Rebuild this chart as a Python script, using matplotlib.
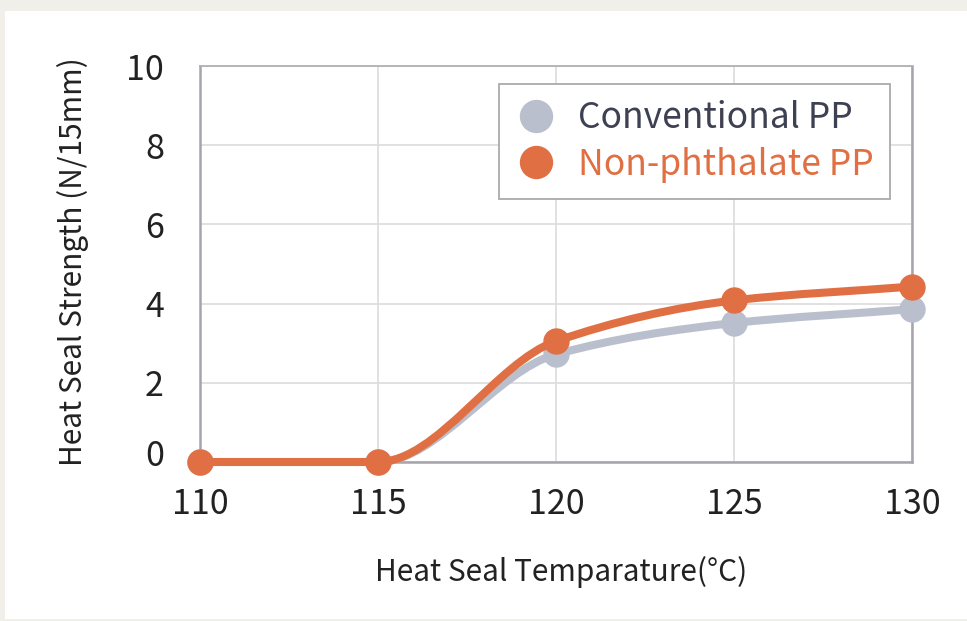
import numpy as np
import matplotlib
matplotlib.use("Agg")
import matplotlib.pyplot as plt
from matplotlib.path import Path
from matplotlib.patches import PathPatch, Rectangle
from matplotlib.lines import Line2D
from matplotlib.transforms import ScaledTranslation

plt.rcParams['font.family'] = ['Noto Sans CJK JP', 'DejaVu Sans']

temps = [110, 115, 120, 125, 130]
conventional = [0, 0, 2.72, 3.51, 3.86]
non_phthalate = [0, 0, 3.05, 4.08, 4.43]
labels = ["Conventional PP", "Non-phthalate PP"]
colors = ["#b9bfcc", "#e07044"]
text_colors = ["#3e4152", "#e07044"]


def smooth_path(x, y):
    # monotone cubic (Fritsch-Carlson) drawn as bezier segments
    x = np.asarray(x, float)
    y = np.asarray(y, float)
    h = np.diff(x)
    d = np.diff(y) / h
    m = np.zeros_like(y)
    m[0], m[-1] = d[0], d[-1]
    for i in range(1, len(y) - 1):
        if d[i - 1] * d[i] <= 0:
            m[i] = 0
        else:
            w1 = 2 * h[i] + h[i - 1]
            w2 = h[i] + 2 * h[i - 1]
            m[i] = (w1 + w2) / (w1 / d[i - 1] + w2 / d[i])
    verts = [(x[0], y[0])]
    codes = [Path.MOVETO]
    for i in range(len(h)):
        verts += [(x[i] + h[i] / 3, y[i] + m[i] * h[i] / 3),
                  (x[i + 1] - h[i] / 3, y[i + 1] - m[i + 1] * h[i] / 3),
                  (x[i + 1], y[i + 1])]
        codes += [Path.CURVE4] * 3
    return Path(verts, codes)


fig = plt.figure(figsize=(9.67, 6.21), dpi=100, facecolor="#f0efea")
fig.patches.append(Rectangle((5 / 967, 2 / 621), 1, 1 - 13 / 621,
                             transform=fig.transFigure, facecolor="white",
                             edgecolor="none", zorder=-5))

ax = fig.add_axes([200 / 967, 1 - 462 / 621, 712 / 967, 396 / 621])
ax.set_facecolor("white")

for ys, c, z in [(conventional, colors[0], 3), (non_phthalate, colors[1], 5)]:
    ax.add_patch(PathPatch(smooth_path(temps, ys), fill=False, edgecolor=c,
                           lw=5.8, capstyle="round", joinstyle="round",
                           clip_on=False, zorder=z))
    ax.plot(temps, ys, "o", color=c, markersize=18, clip_on=False, zorder=z + 1)

ax.set_xlim(110, 130)
ax.set_ylim(0, 10)
ax.set_xticks(temps)
ax.set_yticks(range(0, 11, 2))
ax.grid(True, color="#dedede", lw=1.3)
ax.set_axisbelow(True)
for s in ax.spines.values():
    s.set_color("#a4a4aa")
    s.set_linewidth(1.8)
ax.spines["top"].set_color("#b0b0b5")
ax.spines["top"].set_linewidth(1.3)
ax.tick_params(length=0, labelsize=24.5, colors="#222222")
ax.tick_params(axis="x", pad=18)
ax.tick_params(axis="y", pad=26)

lab0 = ax.get_yticklabels()[0]
lab0.set_transform(lab0.get_transform() + ScaledTranslation(0, 9 / 100, fig.dpi_scale_trans))

fig.text(561 / 967, 1 - 572 / 621, "Heat Seal Temparature(°C)", ha="center", va="center",
         fontsize=21.5, color="#222222")
fig.text(73 / 967, 1 - 262 / 621, "Heat Seal Strength (N/15mm)", ha="center", va="center",
         rotation=90, fontsize=21.5, color="#222222")

handles = [Line2D([], [], marker="o", linestyle="none", color=c, markersize=23) for c in colors]
leg = ax.legend(handles, labels, loc="upper right", bbox_to_anchor=(890 / 967, 1 - 84 / 621),
                bbox_transform=fig.transFigure, borderaxespad=0, fontsize=25.5,
                frameon=True, fancybox=False, framealpha=1, edgecolor="#aaaaaa",
                handletextpad=0.6, borderpad=0.45, labelspacing=0.3, handlelength=1.2)
leg.get_frame().set_linewidth(1.3)
for t, c in zip(leg.get_texts(), text_colors):
    t.set_color(c)

fig.savefig("out.png", dpi=100, facecolor=fig.get_facecolor())
